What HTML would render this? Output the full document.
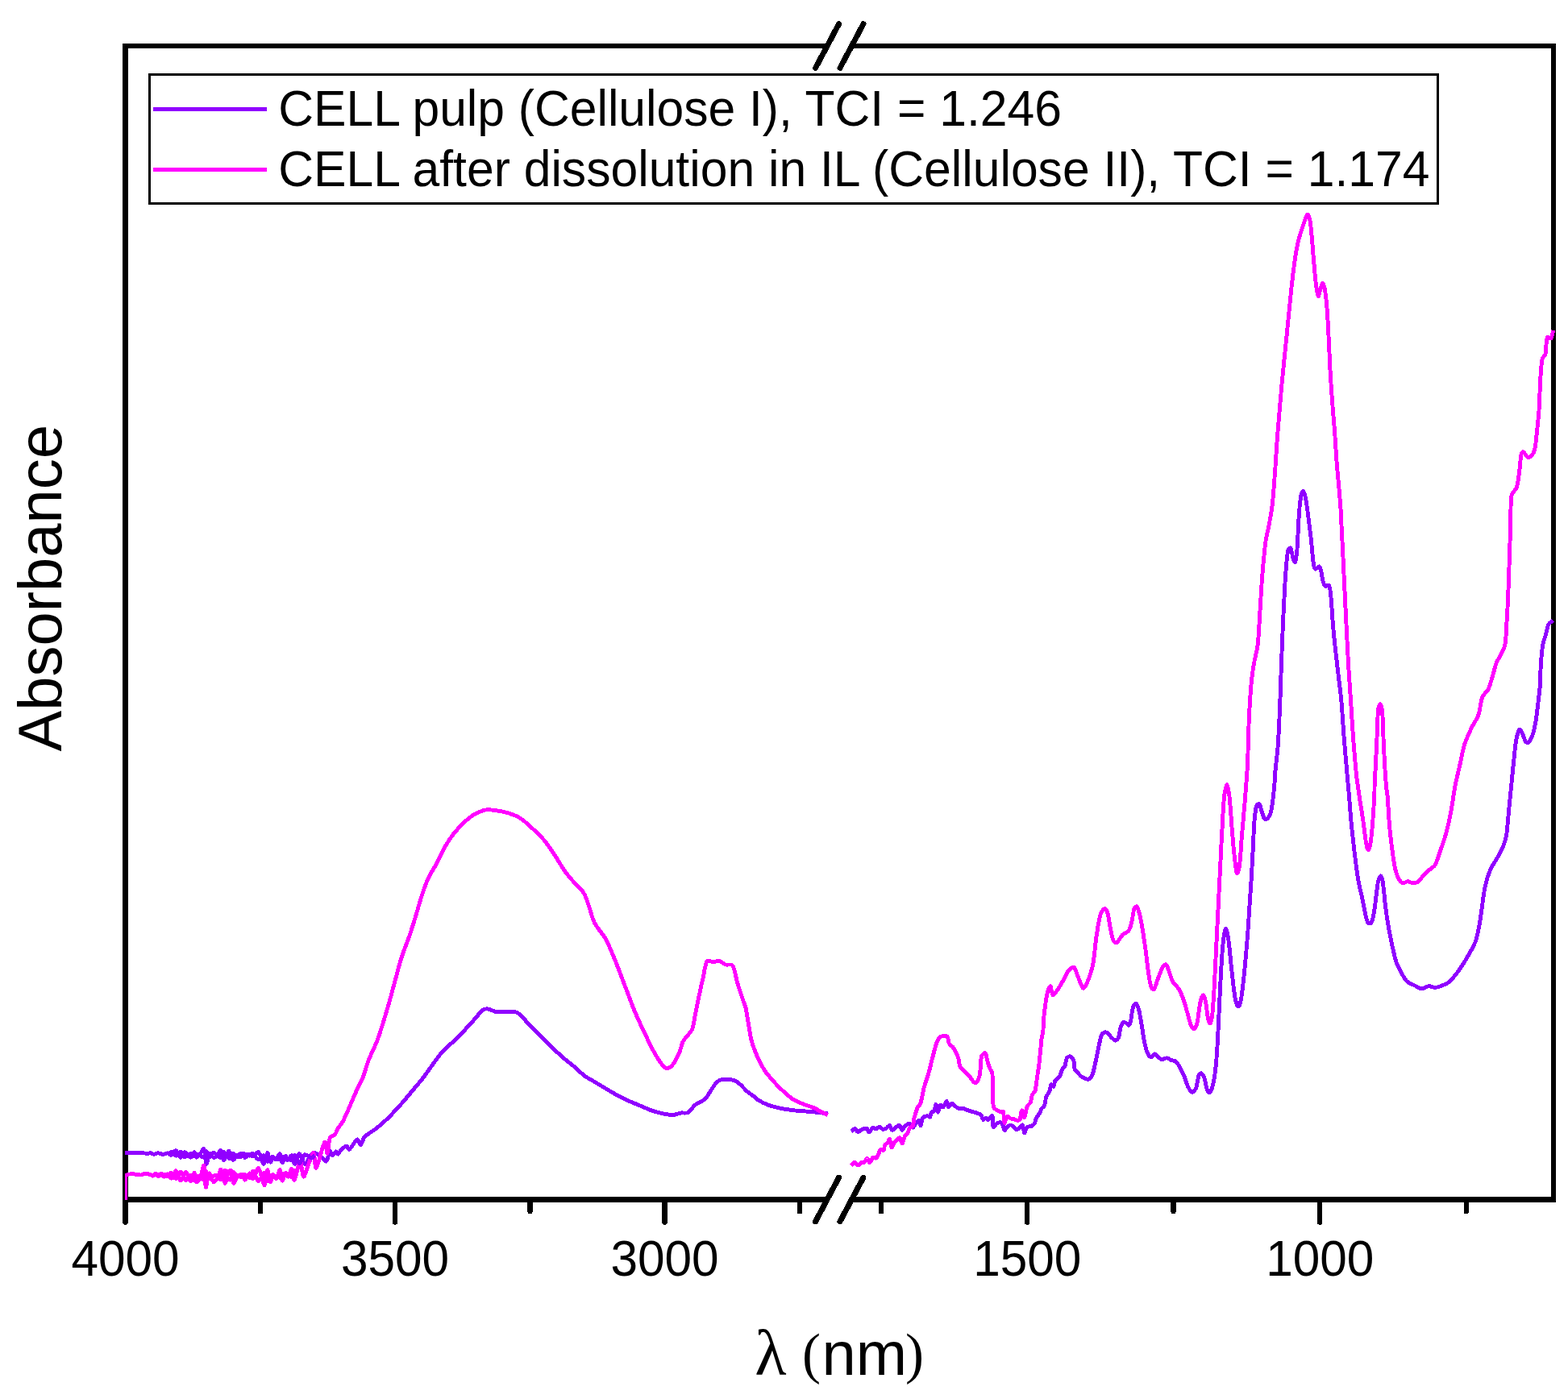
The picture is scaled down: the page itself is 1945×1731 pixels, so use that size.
<!DOCTYPE html>
<html lang="en">
<head>
<meta charset="utf-8">
<title>FTIR absorbance spectra of cellulose</title>
<style>
html, body { margin: 0; padding: 0; background: #ffffff; }
body { width: 1945px; height: 1731px; overflow: hidden; }
svg { display: block; }
</style>
</head>
<body>
<svg width="1945" height="1731" viewBox="0 0 1945 1731">
<rect x="0" y="0" width="1945" height="1731" fill="#ffffff"/>
<g fill="#000000" shape-rendering="crispEdges">
<rect x="152" y="54" width="7" height="1438"/>
<rect x="1924" y="54" width="6" height="1438"/>
<rect x="152" y="54" width="874" height="6"/>
<rect x="1057" y="54" width="873" height="6"/>
<rect x="152" y="1485" width="874" height="7"/>
<rect x="1057" y="1485" width="873" height="7"/>
<rect x="152.4" y="1488" width="6.2" height="31.6" rx="2" ry="2"/>
<rect x="486.9" y="1488" width="6.2" height="31.6" rx="2" ry="2"/>
<rect x="821.4" y="1488" width="6.2" height="31.6" rx="2" ry="2"/>
<rect x="1271.2" y="1488" width="6.2" height="31.6" rx="2" ry="2"/>
<rect x="1634.1" y="1488" width="6.2" height="31.6" rx="2" ry="2"/>
<rect x="319.9" y="1488" width="6.2" height="18" rx="2" ry="2"/>
<rect x="654.4" y="1488" width="6.2" height="18" rx="2" ry="2"/>
<rect x="988.9" y="1488" width="6.2" height="18" rx="2" ry="2"/>
<rect x="1089.9" y="1488" width="6.2" height="18" rx="2" ry="2"/>
<rect x="1452.4" y="1488" width="6.2" height="18" rx="2" ry="2"/>
<rect x="1815.6" y="1488" width="6.2" height="18" rx="2" ry="2"/>
</g>
<g stroke="#000000" stroke-width="7.0" stroke-linecap="round" fill="none" shape-rendering="crispEdges">
<line x1="1011.6" y1="84.3" x2="1040.6" y2="29.7"/>
<line x1="1042.0" y1="84.3" x2="1071.0" y2="29.7"/>
<line x1="1011.5" y1="1515.8" x2="1040.5" y2="1461.2"/>
<line x1="1041.9" y1="1515.8" x2="1070.9" y2="1461.2"/>
</g>
<g fill="none" stroke-width="4.9" stroke-linejoin="round" stroke-linecap="butt" shape-rendering="crispEdges">
<path stroke="#9000ff" d="M155.1,1430.2C158.5,1430.2 163.0,1430.1 166.5,1430.2C168.9,1430.2 172.2,1430.4 174.7,1430.6C177.1,1430.8 180.4,1431.2 182.9,1431.3C184.1,1431.3 185.8,1430.7 187.0,1430.8C188.3,1431.0 189.9,1432.2 191.1,1432.2C192.6,1432.2 194.6,1430.8 196.1,1430.8C198.0,1430.9 200.7,1432.5 202.6,1432.5C204.1,1432.5 206.1,1430.7 207.6,1430.8C209.1,1431.0 211.2,1433.7 212.5,1433.3C214.4,1432.7 216.8,1427.2 218.3,1427.6C220.2,1428.0 222.2,1435.9 224.0,1436.2C225.5,1436.5 227.3,1429.6 229.0,1429.6C231.0,1429.6 234.4,1436.2 236.4,1436.2C238.1,1436.2 240.1,1429.6 241.3,1429.6C242.3,1429.6 242.7,1435.9 243.8,1436.2C244.9,1436.4 247.4,1432.9 248.7,1431.3C250.1,1429.6 252.2,1424.4 252.8,1425.5C254.5,1428.4 254.8,1443.4 256.1,1444.4C257.0,1445.1 258.5,1432.8 260.2,1431.3C261.2,1430.5 263.6,1436.3 265.2,1436.6C266.5,1436.8 268.8,1434.2 270.1,1432.9C271.4,1431.5 273.0,1426.9 273.8,1427.6C275.3,1428.9 276.1,1438.5 277.5,1439.5C278.4,1440.1 280.4,1434.9 281.6,1432.9C282.4,1431.6 283.4,1427.8 284.1,1428.4C285.6,1429.8 287.2,1438.5 289.0,1439.5C290.2,1440.1 292.1,1434.9 294.0,1433.7C296.1,1432.4 300.4,1430.7 302.2,1431.3C303.4,1431.6 302.9,1436.5 303.8,1436.6C305.1,1436.7 307.8,1432.5 309.6,1432.1C310.6,1431.9 312.1,1434.8 313.2,1434.6C315.4,1434.1 319.1,1428.6 320.6,1429.6C323.3,1431.5 325.4,1444.3 327.1,1444.4C328.7,1444.5 330.3,1430.8 331.7,1430.4C332.8,1430.1 334.0,1440.8 335.4,1442.0C336.1,1442.6 337.4,1436.8 338.7,1436.2C339.4,1435.8 341.1,1439.1 342.0,1438.7C343.7,1437.7 346.2,1431.1 347.3,1431.7C348.7,1432.4 349.0,1442.3 350.2,1442.8C351.1,1443.2 353.1,1435.2 354.3,1434.6C355.0,1434.2 355.8,1439.6 356.8,1439.5C358.0,1439.3 360.6,1433.1 361.7,1433.7C363.3,1434.6 364.5,1444.7 365.8,1444.4C367.4,1444.1 369.7,1431.7 371.6,1431.7C373.4,1431.7 376.0,1444.4 378.2,1444.4C380.4,1444.5 383.5,1435.3 386.4,1432.1C387.2,1431.1 389.3,1430.1 390.5,1430.4C393.0,1431.1 396.4,1433.6 398.7,1435.4C400.6,1436.8 403.3,1441.9 404.5,1441.1C406.5,1439.9 407.7,1430.3 409.4,1428.8C410.2,1428.1 411.6,1433.7 412.7,1433.7C413.9,1433.7 415.6,1429.1 416.8,1428.8C417.6,1428.6 418.6,1432.4 419.3,1432.1C420.5,1431.6 421.9,1427.7 423.4,1426.3C425.1,1424.8 428.2,1422.2 430.0,1422.2C431.2,1422.2 432.3,1426.9 433.3,1426.3C436.2,1424.5 440.3,1415.1 443.1,1414.0C444.5,1413.4 446.1,1421.0 447.3,1420.6C448.8,1420.0 450.2,1413.2 452.2,1410.7C454.0,1408.5 457.6,1406.6 460.0,1404.9C462.1,1403.4 465.0,1401.6 467.0,1400.0C470.2,1397.4 474.5,1393.8 477.5,1391.0C480.6,1388.2 484.6,1384.1 487.5,1381.0C491.3,1377.0 496.3,1371.5 500.0,1367.3C503.8,1362.9 508.7,1356.8 512.5,1352.3C516.2,1347.8 521.4,1341.9 525.0,1337.3C528.9,1332.2 533.6,1325.0 537.5,1319.8C541.1,1314.9 545.8,1308.1 550.0,1303.6C553.3,1299.9 558.8,1295.8 562.4,1292.3C566.3,1288.7 571.3,1283.7 574.9,1279.8C578.8,1275.8 583.7,1270.2 587.4,1266.1C590.8,1262.4 594.9,1256.7 598.7,1253.6C600.1,1252.4 603.1,1251.7 604.9,1251.9C607.9,1252.2 611.8,1254.7 614.9,1255.4C617.8,1255.9 621.9,1255.9 624.9,1255.9C628.7,1255.9 633.8,1254.9 637.4,1255.4C639.8,1255.7 643.1,1257.1 644.9,1258.6C648.3,1261.4 651.8,1266.6 654.9,1269.8C659.3,1274.4 665.4,1280.3 669.9,1284.8C674.4,1289.3 680.3,1295.4 684.9,1299.8C689.3,1304.1 695.3,1309.6 699.9,1313.6C703.5,1316.7 708.7,1320.5 712.4,1323.6C716.2,1326.8 720.8,1331.8 724.9,1334.8C728.3,1337.4 733.6,1340.1 737.4,1342.3C741.1,1344.6 746.1,1347.6 749.9,1349.8C754.3,1352.5 760.3,1356.1 764.8,1358.6C769.3,1360.9 775.3,1364.0 779.8,1366.0C784.3,1368.1 790.3,1370.4 794.8,1372.3C799.3,1374.2 805.2,1377.0 809.8,1378.5C813.5,1379.8 818.5,1381.0 822.3,1381.8C826.0,1382.5 831.1,1383.7 834.8,1383.5C837.8,1383.4 841.8,1381.5 844.8,1381.0C847.4,1380.6 851.4,1381.8 853.5,1380.5C856.7,1378.8 859.3,1373.4 862.3,1371.0C865.7,1368.3 871.7,1366.5 874.8,1363.5C877.7,1360.8 879.9,1355.6 882.3,1352.3C884.4,1349.2 887.0,1344.7 889.8,1342.3C891.5,1340.8 894.9,1339.5 897.3,1339.3C900.9,1338.9 906.2,1339.3 909.8,1340.3C912.2,1341.0 915.3,1343.1 917.3,1344.8C920.5,1347.5 924.1,1352.0 927.3,1354.8C929.7,1356.9 933.5,1359.1 936.0,1361.0C937.3,1362.1 938.6,1364.1 940.0,1364.9C944.2,1367.3 950.3,1370.2 955.0,1371.9C959.3,1373.4 965.4,1374.7 970.0,1375.6C975.2,1376.6 982.2,1377.5 987.5,1378.1C992.7,1378.7 999.7,1378.9 1004.9,1379.4C1011.5,1380.0 1020.2,1381.1 1026.7,1381.9"/>
<path stroke="#9000ff" d="M1055.9,1403.8C1057.4,1402.8 1059.4,1400.3 1060.7,1400.5C1061.8,1400.6 1062.8,1404.5 1064.0,1404.6C1065.7,1404.6 1068.5,1401.6 1070.6,1400.9C1071.9,1400.4 1074.4,1399.9 1075.5,1400.5C1076.6,1401.1 1077.1,1405.1 1078.0,1405.0C1079.3,1404.8 1081.2,1400.1 1082.9,1399.2C1083.7,1398.8 1085.2,1401.0 1086.2,1400.9C1087.7,1400.7 1089.7,1398.3 1091.1,1398.4C1092.4,1398.5 1093.9,1401.0 1095.2,1401.3C1096.4,1401.5 1098.3,1400.7 1099.4,1400.1C1100.7,1399.2 1102.5,1396.0 1103.5,1396.4C1104.7,1396.8 1105.5,1402.0 1106.8,1402.5C1107.7,1402.9 1109.6,1400.1 1110.9,1399.2C1112.3,1398.3 1114.7,1395.9 1115.8,1396.4C1117.2,1396.9 1118.0,1402.3 1119.1,1402.5C1120.0,1402.7 1121.1,1398.7 1122.4,1397.6C1123.8,1396.3 1126.6,1394.0 1128.2,1394.3C1129.6,1394.5 1131.1,1399.3 1132.3,1399.2C1133.6,1399.1 1135.0,1395.1 1136.4,1393.5C1137.2,1392.5 1139.0,1390.2 1139.7,1390.6C1140.7,1391.2 1141.6,1397.2 1142.1,1396.8C1143.0,1396.1 1143.1,1389.1 1144.6,1386.9C1145.5,1385.5 1148.6,1385.0 1150.4,1384.8C1151.4,1384.7 1153.1,1386.6 1153.7,1386.1C1154.6,1385.2 1154.4,1381.7 1155.3,1380.3C1155.9,1379.5 1158.1,1379.6 1158.6,1378.7C1159.8,1376.6 1160.4,1370.2 1161.1,1370.4C1161.9,1370.7 1162.6,1380.2 1163.5,1380.3C1164.4,1380.4 1165.4,1372.6 1166.8,1371.3C1167.4,1370.7 1169.4,1374.2 1170.1,1373.7C1171.6,1372.7 1173.2,1366.3 1174.2,1366.3C1175.2,1366.3 1175.6,1373.2 1176.7,1373.7C1177.6,1374.1 1179.5,1369.3 1180.8,1369.2C1182.0,1369.1 1183.6,1372.0 1184.9,1372.9C1186.3,1373.8 1188.3,1375.0 1189.8,1375.4C1191.2,1375.7 1193.4,1375.1 1194.8,1375.4C1196.3,1375.7 1198.2,1376.9 1199.7,1377.4C1201.7,1378.1 1204.3,1378.9 1206.3,1379.5C1207.6,1379.9 1209.4,1380.3 1210.7,1380.8C1212.5,1381.4 1215.2,1382.0 1216.5,1383.2C1217.9,1384.6 1218.5,1388.7 1219.7,1389.4C1220.5,1389.8 1222.1,1386.9 1223.0,1386.9C1223.8,1386.9 1224.7,1389.7 1225.5,1389.4C1227.1,1388.9 1230.2,1383.5 1230.8,1384.5C1232.1,1386.3 1230.9,1396.4 1232.1,1398.5C1232.6,1399.3 1234.8,1395.3 1236.2,1394.3C1237.5,1393.5 1239.8,1392.6 1241.1,1392.7C1242.0,1392.8 1243.1,1394.3 1243.6,1395.2C1244.6,1397.2 1245.0,1402.0 1246.1,1402.6C1246.8,1403.0 1248.2,1399.5 1249.4,1398.5C1250.4,1397.5 1252.2,1396.0 1253.5,1396.0C1254.7,1396.0 1256.5,1397.6 1257.6,1398.5C1258.7,1399.3 1259.8,1401.6 1260.9,1401.8C1262.0,1401.9 1263.9,1400.2 1265.0,1399.3C1266.1,1398.4 1267.7,1395.4 1268.3,1396.0C1269.5,1397.3 1269.8,1405.5 1270.7,1405.9C1271.5,1406.2 1272.5,1400.0 1274.0,1398.5C1275.0,1397.5 1277.7,1398.2 1279.0,1397.6C1280.4,1397.0 1282.3,1395.6 1283.1,1394.3C1284.3,1392.4 1284.5,1389.0 1285.6,1386.9C1286.5,1385.1 1288.6,1383.0 1289.7,1381.2C1290.6,1379.6 1291.1,1377.0 1292.1,1375.4C1292.9,1374.3 1294.9,1373.4 1295.4,1372.1C1296.7,1369.0 1296.7,1363.9 1297.9,1360.6C1298.7,1358.5 1301.2,1356.2 1302.0,1354.0C1302.9,1351.7 1302.7,1347.0 1303.7,1345.8C1304.1,1345.2 1306.4,1348.7 1306.9,1348.3C1307.9,1347.5 1307.6,1343.4 1308.6,1341.7C1309.8,1339.7 1313.1,1338.0 1314.3,1335.9C1315.8,1333.5 1316.4,1329.4 1317.6,1326.9C1318.3,1325.5 1320.3,1324.2 1320.9,1322.8C1322.1,1320.0 1322.0,1315.4 1323.4,1312.9C1324.0,1311.8 1326.4,1310.5 1327.5,1310.8C1328.9,1311.3 1331.0,1313.7 1331.6,1315.4C1332.8,1318.5 1332.2,1323.7 1333.3,1326.9C1333.9,1328.6 1336.1,1330.4 1337.4,1331.8C1338.6,1333.1 1340.1,1334.9 1341.5,1335.9C1342.8,1336.9 1344.9,1337.8 1346.4,1338.4C1347.6,1338.8 1349.5,1339.6 1350.5,1339.2C1351.7,1338.8 1353.1,1337.1 1353.8,1335.9C1354.8,1334.3 1355.8,1331.7 1356.2,1329.8C1358.0,1323.1 1359.7,1314.1 1361.2,1307.3C1362.7,1300.6 1364.1,1291.2 1366.2,1284.8C1366.7,1283.4 1368.7,1281.6 1370.0,1281.1C1370.9,1280.7 1372.8,1281.2 1373.7,1281.8C1375.5,1283.1 1377.1,1285.8 1378.7,1287.3C1380.1,1288.6 1382.3,1291.1 1383.7,1291.1C1384.9,1291.1 1386.9,1288.8 1387.5,1287.3C1388.8,1283.9 1388.8,1278.4 1390.0,1274.8C1390.7,1272.8 1392.3,1269.6 1393.7,1268.6C1394.5,1268.1 1396.5,1269.2 1397.5,1269.8C1398.4,1270.4 1399.4,1272.6 1400.0,1272.3C1400.9,1271.9 1402.1,1269.0 1402.5,1267.3C1403.7,1262.2 1404.0,1254.8 1405.5,1249.9C1406.0,1248.2 1408.3,1245.0 1409.2,1245.4C1410.4,1245.8 1411.9,1250.1 1412.5,1252.3C1414.0,1258.2 1415.2,1266.3 1416.2,1272.3C1417.4,1279.1 1418.5,1288.2 1420.0,1294.8C1420.8,1298.6 1422.1,1303.9 1423.7,1307.3C1424.5,1309.0 1426.6,1311.7 1428.0,1311.8C1429.3,1311.9 1431.1,1307.8 1432.5,1307.8C1434.0,1307.9 1435.9,1311.1 1437.5,1312.3C1438.5,1313.2 1440.0,1314.8 1441.2,1314.8C1443.0,1314.9 1445.6,1312.7 1447.5,1312.8C1449.0,1312.9 1450.9,1314.7 1452.4,1315.3C1454.3,1316.0 1457.3,1316.1 1458.7,1317.3C1460.6,1319.0 1462.4,1322.5 1463.7,1324.8C1465.4,1327.7 1467.4,1331.7 1468.7,1334.8C1470.4,1338.8 1471.8,1344.6 1473.7,1348.6C1474.8,1350.8 1477.1,1355.1 1478.7,1355.3C1480.1,1355.5 1482.9,1351.8 1483.7,1349.8C1485.3,1345.7 1485.5,1339.0 1486.9,1334.8C1487.3,1333.6 1489.1,1331.5 1489.9,1331.8C1491.2,1332.3 1493.0,1335.5 1493.7,1337.3C1495.3,1341.6 1496.0,1347.9 1497.4,1352.3C1497.8,1353.6 1499.2,1356.3 1499.9,1356.0C1501.1,1355.6 1503.1,1351.9 1503.7,1349.8C1505.3,1344.0 1506.7,1335.9 1507.4,1329.8C1508.5,1320.9 1509.4,1308.8 1509.9,1299.8C1510.9,1284.8 1511.7,1264.8 1512.4,1249.9C1513.2,1234.9 1514.0,1214.9 1514.9,1199.9C1515.5,1190.1 1516.3,1177.1 1517.4,1167.4C1517.9,1162.8 1519.4,1152.8 1520.4,1152.4C1521.3,1152.1 1523.1,1161.1 1523.7,1164.9C1525.2,1175.3 1526.2,1189.4 1527.4,1199.9C1528.5,1209.6 1529.7,1222.7 1531.2,1232.4C1531.8,1236.9 1532.9,1243.2 1534.4,1247.4C1534.7,1248.1 1536.6,1249.2 1536.9,1248.6C1538.2,1246.2 1539.4,1240.8 1539.9,1237.4C1541.4,1227.7 1542.7,1214.6 1543.7,1204.9C1544.9,1192.1 1546.4,1175.1 1547.4,1162.4C1548.3,1151.2 1549.2,1136.2 1549.9,1124.9C1550.6,1113.7 1551.7,1098.7 1552.4,1087.4C1553.1,1076.2 1553.8,1061.2 1554.4,1050.0C1554.9,1040.2 1555.3,1027.2 1556.1,1017.5C1556.6,1012.2 1557.2,1004.8 1558.6,1000.0C1559.0,998.8 1561.3,996.8 1561.9,997.5C1563.4,999.1 1564.3,1004.5 1565.4,1007.5C1566.3,1010.1 1567.2,1014.5 1568.6,1016.2C1569.3,1016.9 1571.6,1016.2 1572.4,1015.5C1573.9,1014.0 1575.5,1010.9 1576.1,1008.7C1577.3,1004.8 1578.1,999.1 1578.6,995.0C1579.6,987.5 1580.5,977.5 1581.1,970.0C1581.3,967.7 1581.2,964.6 1581.4,962.3C1582.4,951.1 1584.4,936.1 1585.2,924.8C1586.3,909.9 1587.0,889.9 1587.7,874.9C1588.3,859.9 1588.9,839.9 1589.4,824.9C1590.0,809.9 1590.8,789.9 1591.4,774.9C1592.1,759.9 1593.0,739.9 1593.9,724.9C1594.5,715.2 1595.4,702.2 1596.4,692.5C1596.8,689.0 1597.3,684.2 1598.4,681.2C1598.7,680.5 1600.6,679.4 1600.9,680.0C1602.3,682.7 1602.8,688.8 1603.9,692.5C1604.4,694.0 1606.0,698.3 1606.4,697.5C1607.5,695.3 1608.5,687.0 1608.9,682.5C1610.0,669.0 1610.4,651.0 1611.4,637.5C1611.9,630.7 1612.7,621.6 1613.9,615.0C1614.2,613.2 1615.7,609.2 1616.4,609.5C1617.4,609.9 1618.9,615.0 1619.4,617.5C1620.8,624.1 1621.8,633.2 1622.7,640.0C1623.9,649.0 1625.4,661.0 1626.4,670.0C1627.4,678.9 1628.1,691.1 1629.4,700.0C1629.7,701.9 1630.8,705.7 1631.9,706.2C1632.9,706.6 1635.5,702.5 1636.4,702.9C1637.6,703.6 1638.4,707.8 1638.9,709.9C1639.9,713.6 1640.3,718.8 1641.4,722.4C1641.9,724.1 1643.2,726.8 1644.4,727.4C1645.3,727.9 1648.0,725.3 1648.4,726.2C1649.9,729.1 1650.5,735.8 1650.9,739.9C1652.0,750.4 1652.5,764.4 1653.4,774.9C1654.2,783.9 1655.4,795.9 1656.4,804.9C1657.5,814.7 1659.0,827.6 1660.1,837.4C1661.3,847.1 1663.0,860.1 1663.9,869.9C1665.0,882.6 1665.9,899.6 1666.9,912.3C1667.8,923.6 1669.2,938.6 1670.1,949.8C1671.1,961.1 1672.4,976.1 1673.4,987.3C1674.2,997.1 1675.2,1010.2 1676.1,1020.0C1677.1,1030.5 1678.6,1044.5 1679.8,1054.9C1681.2,1066.2 1683.0,1081.2 1684.8,1092.4C1686.0,1099.2 1688.4,1108.2 1689.8,1114.9C1691.3,1121.6 1692.7,1130.7 1694.3,1137.4C1694.9,1139.9 1695.9,1143.8 1697.3,1145.4C1697.9,1146.1 1700.6,1145.8 1701.1,1144.9C1702.7,1141.9 1703.6,1136.2 1704.3,1132.4C1705.5,1125.7 1706.4,1116.7 1707.3,1109.9C1708.0,1104.7 1708.6,1097.5 1709.8,1092.4C1710.3,1090.6 1712.1,1086.6 1712.8,1086.9C1713.8,1087.4 1714.9,1092.5 1715.3,1094.9C1716.7,1103.8 1717.4,1115.9 1718.6,1124.9C1719.5,1132.4 1721.0,1142.4 1722.3,1149.9C1723.6,1157.4 1725.7,1167.4 1727.3,1174.9C1728.7,1180.9 1730.3,1189.1 1732.3,1194.9C1733.7,1198.8 1736.5,1203.7 1738.6,1207.4C1740.3,1210.5 1742.3,1215.0 1744.8,1217.4C1747.2,1219.7 1751.7,1221.3 1754.8,1222.9C1757.4,1224.2 1760.9,1226.7 1763.5,1226.9C1766.1,1227.0 1769.6,1223.9 1772.3,1223.6C1774.5,1223.4 1777.5,1225.4 1779.8,1225.4C1782.0,1225.4 1785.1,1224.4 1787.3,1223.6C1790.4,1222.4 1794.7,1220.7 1797.3,1218.6C1800.7,1215.8 1804.5,1211.0 1807.3,1207.4C1810.5,1203.1 1814.5,1197.0 1817.3,1192.4C1821.3,1185.6 1826.8,1176.6 1829.8,1169.4C1832.1,1163.8 1833.6,1155.5 1834.8,1149.5C1836.2,1142.1 1837.4,1132.0 1838.5,1124.5C1839.6,1117.0 1840.6,1106.9 1842.3,1099.6C1843.6,1093.5 1846.0,1085.3 1848.5,1079.6C1850.5,1074.8 1854.7,1069.2 1857.2,1064.6C1859.6,1060.2 1862.8,1054.3 1864.7,1049.7C1866.2,1046.0 1867.8,1041.0 1868.5,1037.2C1869.7,1029.8 1870.2,1019.7 1871.0,1012.2C1871.7,1004.7 1872.7,994.7 1873.4,987.3C1874.2,979.8 1875.2,969.8 1875.9,962.3C1876.7,954.8 1877.6,944.8 1878.4,937.3C1879.1,931.3 1879.8,923.3 1880.9,917.4C1881.7,913.7 1883.1,906.9 1884.7,905.4C1885.4,904.7 1887.6,908.4 1888.4,909.9C1889.9,912.7 1890.5,917.3 1892.2,919.9C1892.8,920.9 1895.2,922.3 1895.9,921.6C1897.8,920.0 1899.8,915.3 1900.9,912.4C1902.5,908.1 1903.8,902.0 1904.6,897.4C1905.8,890.7 1906.8,881.7 1907.6,875.0C1908.5,867.5 1909.8,857.5 1910.4,850.0C1910.9,842.5 1910.8,832.4 1911.3,824.9C1911.8,817.4 1912.5,807.3 1913.8,799.9C1914.4,796.1 1916.5,791.2 1917.5,787.4C1918.6,783.7 1919.1,778.2 1920.8,774.9C1921.7,773.0 1924.6,771.4 1926.3,769.9"/>
<path stroke="#ff00ff" stroke-width="3.4" stroke-linejoin="miter" d="M156.5,1489.0 L156.5,1457.4 L158.5,1457.4"/>
<path stroke="#ff00ff" d="M156.5,1457.4C156.6,1457.4 156.8,1457.3 157.0,1457.3C159.3,1457.2 162.5,1456.7 164.8,1456.8C167.8,1456.9 171.8,1458.1 174.7,1458.0C176.0,1458.0 177.5,1456.4 178.8,1456.4C181.2,1456.3 184.7,1456.9 187.0,1457.6C187.9,1457.8 188.8,1459.4 189.5,1459.2C190.5,1458.9 191.8,1455.9 192.8,1455.9C193.8,1456.0 195.0,1459.6 196.1,1459.6C197.2,1459.6 199.0,1455.9 200.2,1455.9C201.3,1456.0 202.4,1459.9 203.5,1460.1C204.6,1460.2 206.4,1456.5 207.6,1456.8C209.2,1457.1 211.2,1462.6 212.5,1462.1C214.5,1461.4 216.7,1452.3 218.3,1452.6C220.2,1453.1 222.1,1464.7 224.0,1465.0C225.8,1465.2 228.8,1454.2 230.6,1454.3C232.5,1454.4 234.7,1465.7 236.4,1465.8C237.9,1465.9 240.2,1454.9 241.3,1455.1C242.4,1455.3 242.4,1466.0 243.8,1467.0C244.7,1467.7 247.8,1463.0 248.7,1460.9C250.5,1456.7 252.1,1444.7 252.8,1446.1C254.1,1448.4 254.1,1471.4 255.3,1473.2C256.1,1474.4 257.7,1457.0 259.4,1455.9C260.6,1455.2 263.2,1466.1 265.2,1467.0C266.4,1467.6 268.9,1462.9 270.1,1460.9C271.6,1458.2 273.2,1450.6 274.2,1451.4C275.9,1452.8 277.7,1467.8 279.2,1468.3C280.4,1468.7 281.5,1458.1 283.3,1454.3C283.7,1453.3 286.2,1451.4 286.6,1452.2C288.2,1455.6 288.3,1467.0 289.8,1468.3C290.8,1469.1 292.7,1461.1 294.8,1459.2C296.4,1457.9 300.8,1456.8 302.2,1457.6C303.5,1458.3 302.9,1464.4 303.8,1464.2C305.2,1463.9 307.9,1456.2 309.6,1455.9C310.9,1455.7 312.8,1463.2 314.0,1462.5C316.1,1461.2 318.9,1448.4 320.6,1449.4C323.1,1450.9 326.2,1470.3 328.0,1470.7C329.5,1471.1 330.4,1452.5 331.7,1451.8C332.7,1451.3 334.1,1465.6 335.4,1466.6C336.2,1467.3 337.3,1458.3 338.7,1457.6C339.6,1457.1 341.9,1463.2 342.8,1462.5C344.5,1461.3 346.3,1451.1 347.3,1451.4C348.5,1451.8 349.0,1464.4 350.2,1465.0C351.1,1465.5 352.9,1456.1 354.3,1455.1C355.1,1454.6 356.8,1460.5 357.6,1460.1C359.0,1459.2 360.8,1450.1 361.7,1450.6C363.0,1451.3 363.8,1465.2 365.0,1464.2C367.0,1462.4 370.5,1441.8 372.4,1441.1C373.9,1440.6 374.8,1459.2 376.5,1460.1C377.8,1460.7 380.5,1450.3 382.3,1446.1C384.2,1441.4 387.5,1430.0 388.8,1430.4C390.4,1431.0 390.6,1450.8 392.1,1449.4C394.8,1446.8 399.9,1421.1 402.8,1417.3C404.1,1415.7 405.3,1432.0 406.1,1431.3C407.3,1430.3 407.4,1416.7 409.4,1411.5C410.1,1409.8 413.9,1409.7 415.2,1408.2C416.9,1406.2 417.9,1402.3 419.3,1400.0C420.8,1397.6 423.5,1394.8 424.9,1392.3C427.4,1387.6 430.2,1381.0 432.4,1376.1C436.2,1367.5 441.0,1355.9 444.9,1347.4C446.3,1344.3 448.8,1340.5 450.0,1337.3C452.6,1330.7 454.9,1321.4 457.5,1314.8C460.2,1307.9 464.8,1299.2 467.5,1292.3C470.1,1285.7 472.8,1276.6 475.0,1269.8C477.3,1262.4 480.3,1252.4 482.5,1244.9C484.8,1236.6 487.7,1225.6 490.0,1217.4C492.2,1209.1 494.9,1198.0 497.5,1189.9C500.1,1181.5 504.6,1170.7 507.5,1162.4C510.3,1154.2 513.7,1143.2 516.2,1134.9C518.5,1127.4 521.2,1117.3 523.7,1109.9C525.7,1103.9 528.5,1095.7 531.2,1089.9C534.1,1083.7 539.2,1076.0 542.5,1069.9C545.6,1064.0 549.1,1055.8 552.4,1050.0C555.1,1045.3 559.1,1039.2 562.4,1035.0C565.9,1030.6 570.9,1025.0 574.9,1021.2C578.4,1017.9 583.3,1013.6 587.4,1011.2C591.6,1008.8 597.8,1005.9 602.4,1005.0C606.0,1004.3 611.2,1005.2 614.9,1005.7C619.5,1006.3 625.5,1007.4 629.9,1008.7C634.5,1010.2 640.8,1012.4 644.9,1015.0C649.8,1018.0 655.6,1023.5 659.9,1027.5C664.6,1031.8 670.8,1037.6 674.9,1042.5C679.0,1047.4 683.8,1054.6 687.4,1060.0C691.3,1065.8 695.9,1074.1 699.9,1079.9C702.6,1083.9 706.7,1088.8 709.9,1092.4C713.9,1097.0 720.3,1102.4 723.6,1107.4C726.3,1111.4 728.2,1117.8 729.9,1122.4C732.3,1129.1 734.2,1138.6 737.4,1144.9C740.6,1151.4 747.6,1158.6 751.1,1164.9C755.1,1172.1 759.2,1182.3 762.3,1189.9C766.3,1199.5 771.1,1212.6 774.8,1222.4C778.6,1232.1 783.3,1245.2 787.3,1254.9C790.8,1263.2 795.9,1274.2 799.8,1282.3C803.4,1289.9 808.2,1300.0 812.3,1307.3C815.0,1312.0 818.9,1318.2 822.3,1322.3C823.4,1323.6 825.8,1325.3 827.3,1325.3C829.1,1325.3 832.3,1323.9 833.6,1322.3C836.8,1318.5 840.1,1312.0 842.3,1307.3C844.3,1303.0 845.1,1296.4 847.3,1292.3C849.9,1287.5 856.2,1282.3 858.5,1277.3C860.7,1272.6 861.2,1265.1 862.3,1259.9C863.8,1252.4 865.7,1242.3 867.3,1234.9C868.7,1228.1 870.7,1219.1 872.3,1212.4C873.7,1206.4 874.5,1196.5 877.3,1192.4C878.3,1190.9 882.5,1193.6 884.8,1193.6C887.0,1193.6 890.2,1191.9 892.3,1192.4C894.7,1192.9 897.3,1196.1 899.8,1196.9C902.2,1197.7 907.3,1196.0 908.5,1197.9C911.8,1202.9 912.7,1213.3 914.8,1219.9C917.6,1228.9 921.7,1240.9 924.8,1249.9C924.8,1249.9 925.0,1249.9 925.0,1249.9C926.2,1256.6 927.5,1265.7 928.7,1272.4C929.8,1278.4 930.8,1286.6 932.5,1292.4C934.2,1298.5 937.4,1306.6 940.0,1312.4C942.2,1317.4 945.7,1324.1 948.7,1328.6C951.7,1333.0 956.4,1338.4 960.0,1342.4C963.5,1346.3 968.5,1351.3 972.5,1354.9C976.0,1358.1 980.9,1362.4 985.0,1364.9C988.4,1367.0 993.7,1368.8 997.5,1370.4C1001.1,1371.8 1006.3,1373.2 1009.9,1374.9C1013.1,1376.2 1016.9,1378.8 1019.9,1380.4C1021.9,1381.4 1024.7,1382.6 1026.7,1383.6"/>
<path stroke="#ff00ff" d="M1055.9,1446.5C1057.1,1445.3 1058.6,1442.5 1059.9,1442.4C1061.3,1442.4 1063.4,1446.2 1064.8,1446.1C1066.1,1446.1 1067.5,1442.7 1068.9,1442.0C1069.7,1441.6 1071.5,1442.9 1072.2,1442.4C1073.5,1441.5 1074.5,1437.4 1075.5,1437.5C1076.5,1437.5 1077.8,1443.0 1078.8,1442.8C1080.0,1442.6 1081.3,1437.4 1082.9,1436.2C1083.8,1435.6 1086.2,1437.7 1087.0,1437.1C1088.4,1436.0 1089.4,1432.5 1090.3,1430.5C1090.9,1429.3 1091.1,1426.9 1092.0,1426.4C1092.8,1425.9 1095.4,1427.9 1096.1,1427.2C1097.1,1426.1 1096.8,1422.3 1097.7,1420.6C1098.3,1419.6 1100.3,1419.1 1101.0,1418.2C1102.0,1416.9 1103.0,1412.6 1103.5,1413.2C1104.5,1414.4 1104.9,1423.0 1105.9,1423.9C1106.6,1424.5 1108.1,1419.7 1109.2,1418.2C1110.0,1417.0 1111.5,1415.8 1112.5,1414.9C1113.5,1413.9 1115.1,1411.1 1115.8,1411.6C1117.1,1412.4 1118.2,1419.2 1119.1,1419.0C1120.2,1418.7 1121.1,1412.4 1122.4,1409.9C1123.0,1408.7 1125.0,1407.8 1125.7,1406.6C1126.7,1404.9 1127.0,1401.7 1128.2,1400.1C1129.0,1398.8 1131.6,1398.1 1132.3,1396.8C1133.4,1394.4 1133.3,1390.4 1133.9,1387.7C1134.5,1385.2 1135.6,1381.9 1136.4,1379.5C1137.0,1377.5 1137.9,1374.7 1138.8,1372.9C1139.3,1372.0 1140.9,1371.3 1141.3,1370.4C1142.1,1368.9 1142.5,1366.4 1143.0,1364.7C1144.0,1360.3 1144.9,1354.3 1146.1,1349.9C1147.8,1343.8 1150.7,1335.9 1152.4,1329.9C1154.0,1323.9 1155.8,1315.9 1157.4,1309.9C1158.8,1304.6 1160.3,1297.4 1162.4,1292.4C1163.3,1290.2 1165.4,1287.1 1167.4,1286.2C1169.2,1285.3 1173.5,1285.0 1174.9,1286.2C1176.5,1287.6 1176.1,1292.6 1177.4,1294.9C1178.3,1296.7 1181.2,1298.1 1182.4,1299.9C1184.6,1303.4 1187.2,1308.5 1188.6,1312.4C1189.8,1315.6 1189.5,1320.7 1191.1,1323.6C1192.9,1326.8 1197.4,1329.9 1200.0,1332.6C1201.3,1334.1 1202.9,1336.1 1204.1,1337.6C1205.4,1339.2 1206.7,1341.9 1208.2,1342.9C1209.0,1343.5 1210.9,1343.6 1211.5,1342.9C1212.9,1341.5 1214.3,1338.2 1214.8,1335.9C1215.7,1332.1 1216.0,1326.7 1216.5,1322.8C1216.9,1319.1 1216.5,1313.7 1217.7,1310.4C1218.2,1308.9 1221.4,1306.1 1222.2,1306.7C1223.5,1307.8 1223.8,1313.4 1224.7,1316.2C1225.6,1319.2 1226.8,1323.2 1228.0,1326.1C1228.6,1327.6 1230.7,1329.3 1230.8,1331.0C1231.8,1341.4 1231.2,1355.8 1231.7,1366.4C1231.8,1368.9 1231.9,1372.5 1232.9,1374.6C1233.5,1375.9 1235.7,1377.1 1237.0,1377.9C1238.1,1378.6 1239.9,1379.3 1241.1,1379.5C1242.1,1379.7 1244.1,1378.7 1244.4,1379.5C1245.6,1382.9 1245.2,1392.5 1246.1,1393.5C1246.6,1394.2 1247.9,1386.4 1249.4,1385.3C1250.1,1384.7 1252.2,1387.2 1253.5,1387.8C1254.6,1388.2 1256.4,1388.2 1257.6,1388.6C1258.9,1389.0 1260.4,1390.1 1261.7,1390.2C1262.7,1390.3 1264.6,1390.2 1265.0,1389.4C1266.3,1386.5 1266.5,1378.3 1267.5,1377.9C1268.2,1377.6 1270.0,1387.5 1270.7,1386.9C1271.9,1386.1 1272.5,1376.9 1274.0,1373.0C1274.7,1371.2 1277.4,1369.7 1278.2,1368.0C1279.4,1365.3 1279.5,1360.9 1280.6,1358.2C1281.2,1356.7 1283.5,1355.5 1283.9,1354.0C1285.2,1349.4 1285.6,1342.5 1286.4,1337.6C1287.1,1332.6 1288.2,1326.1 1288.8,1321.1C1289.5,1316.2 1290.0,1309.6 1290.5,1304.7C1291.0,1299.7 1291.5,1293.1 1292.1,1288.2C1292.5,1285.7 1293.5,1282.5 1293.8,1280.0C1294.3,1274.8 1294.2,1267.7 1294.8,1262.4C1295.7,1254.1 1296.9,1243.0 1298.6,1234.9C1299.3,1231.4 1301.7,1223.7 1302.8,1223.7C1303.9,1223.7 1304.5,1234.3 1306.0,1234.9C1307.3,1235.4 1310.6,1229.8 1312.3,1227.4C1314.8,1223.8 1317.6,1218.7 1319.8,1214.9C1321.7,1211.6 1323.6,1206.5 1326.0,1203.7C1327.4,1202.2 1331.1,1199.5 1332.3,1200.4C1334.5,1202.2 1335.6,1208.9 1337.3,1212.4C1339.2,1216.6 1342.4,1227.5 1344.3,1226.2C1347.7,1223.7 1353.0,1208.1 1355.0,1199.9C1357.7,1188.9 1358.3,1173.6 1360.0,1162.4C1361.3,1154.1 1362.7,1142.8 1365.0,1134.9C1365.7,1132.3 1368.4,1127.9 1370.0,1127.4C1371.1,1127.1 1373.2,1130.6 1373.7,1132.4C1375.5,1138.1 1376.2,1146.4 1377.5,1152.4C1378.5,1156.9 1379.5,1163.3 1381.2,1167.4C1381.7,1168.6 1384.1,1170.5 1385.0,1169.9C1387.5,1168.2 1389.9,1162.5 1392.5,1159.9C1394.4,1158.0 1398.4,1157.0 1400.0,1154.9C1401.8,1152.5 1402.9,1148.0 1403.7,1144.9C1405.0,1139.7 1405.4,1132.3 1407.0,1127.4C1407.3,1126.3 1409.4,1124.3 1410.0,1124.9C1411.5,1126.6 1412.9,1131.8 1413.7,1134.9C1415.2,1140.8 1416.5,1148.9 1417.5,1154.9C1418.7,1162.4 1420.2,1172.4 1421.2,1179.9C1422.4,1188.9 1423.6,1200.9 1425.0,1209.9C1425.6,1214.4 1426.5,1220.7 1428.0,1224.9C1428.4,1226.1 1430.6,1228.6 1431.2,1227.9C1433.1,1225.6 1434.6,1218.7 1436.2,1214.9C1438.0,1210.3 1440.1,1204.0 1442.5,1199.9C1443.1,1198.6 1445.4,1196.3 1446.2,1196.9C1447.7,1197.8 1449.0,1202.4 1450.0,1204.9C1451.6,1208.9 1452.9,1214.8 1454.9,1218.6C1456.6,1221.6 1460.7,1224.4 1462.4,1227.4C1464.9,1231.5 1467.1,1237.8 1468.7,1242.4C1470.5,1247.5 1472.2,1254.6 1473.7,1259.8C1474.8,1263.6 1475.9,1268.8 1477.4,1272.3C1478.1,1273.9 1480.2,1277.2 1481.2,1276.8C1482.5,1276.4 1484.4,1272.1 1484.9,1269.8C1486.6,1262.5 1487.1,1252.2 1488.7,1244.9C1489.3,1241.7 1491.3,1235.3 1492.4,1234.9C1493.3,1234.5 1494.9,1240.0 1495.4,1242.4C1496.8,1249.0 1497.3,1258.2 1498.7,1264.8C1499.0,1266.5 1500.6,1270.4 1501.2,1269.8C1502.1,1268.9 1503.3,1262.9 1503.7,1259.8C1504.8,1249.4 1505.6,1235.4 1506.2,1224.9C1507.1,1209.9 1507.9,1189.9 1508.7,1174.9C1509.4,1159.9 1510.4,1139.9 1511.2,1124.9C1511.9,1109.9 1512.9,1089.9 1513.7,1074.9C1514.4,1059.9 1515.3,1039.9 1516.2,1025.0C1516.8,1013.7 1517.4,998.6 1518.7,987.5C1519.1,983.3 1521.0,973.7 1521.9,973.7C1522.8,973.7 1524.4,983.3 1524.9,987.5C1526.2,998.7 1527.0,1013.7 1527.9,1025.0C1528.8,1036.2 1529.9,1051.2 1531.2,1062.4C1531.9,1068.8 1533.1,1081.1 1534.4,1083.7C1535.0,1084.8 1537.1,1077.7 1537.4,1074.9C1538.9,1063.8 1539.5,1048.7 1540.4,1037.5C1541.3,1026.2 1542.8,1011.2 1543.7,1000.0C1544.9,985.0 1546.6,965.0 1547.4,950.0C1548.2,935.0 1548.3,914.9 1549.0,899.9C1549.6,884.8 1550.7,864.8 1552.0,849.9C1552.6,842.3 1554.0,832.3 1555.2,824.9C1556.4,817.3 1559.3,807.5 1560.2,799.9C1561.5,788.7 1562.0,773.7 1562.7,762.4C1563.7,747.4 1564.7,727.4 1565.9,712.4C1567.0,699.7 1568.5,682.6 1570.2,670.0C1570.9,664.7 1573.0,657.8 1573.9,652.5C1575.5,644.2 1577.5,633.2 1578.4,624.8C1579.7,613.6 1580.6,598.6 1581.4,587.3C1582.3,576.1 1583.1,561.1 1583.9,549.9C1584.8,538.6 1586.0,523.6 1586.9,512.4C1587.9,501.1 1589.1,486.1 1590.2,474.9C1591.2,463.6 1592.8,448.7 1593.9,437.4C1595.1,426.2 1596.6,411.2 1597.7,399.9C1598.8,388.7 1600.2,373.7 1601.4,362.4C1602.5,352.7 1603.8,339.7 1605.2,330.0C1606.4,320.9 1608.2,308.9 1610.2,300.0C1611.6,293.9 1614.4,285.9 1616.4,280.0C1617.9,275.8 1620.3,267.2 1621.9,266.2C1622.9,265.7 1624.7,272.2 1625.2,275.0C1626.4,282.4 1627.0,292.5 1627.7,300.0C1628.5,309.0 1629.3,321.0 1630.2,330.0C1630.8,337.5 1631.7,347.5 1632.7,354.9C1633.2,358.7 1634.2,366.5 1635.2,367.4C1635.7,368.0 1636.9,362.2 1637.7,359.9C1638.6,357.3 1640.1,350.9 1640.9,351.2C1641.9,351.6 1643.4,359.0 1643.9,362.4C1645.0,369.9 1645.9,379.9 1646.4,387.4C1647.2,398.7 1647.8,413.7 1648.4,424.9C1649.0,436.2 1649.5,451.2 1650.2,462.4C1650.8,473.6 1651.8,488.6 1652.7,499.9C1653.5,511.1 1654.8,526.1 1655.7,537.4C1656.5,548.6 1657.3,563.6 1658.2,574.8C1658.9,583.8 1660.1,595.8 1660.9,604.8C1661.7,614.6 1662.8,627.6 1663.4,637.3C1663.6,641.1 1663.7,646.2 1663.9,650.0C1664.6,665.0 1665.7,685.0 1666.4,700.0C1667.3,718.7 1668.5,743.7 1669.4,762.4C1670.3,781.2 1671.6,806.2 1672.6,824.9C1673.5,839.9 1674.9,859.9 1675.9,874.9C1676.8,888.4 1677.8,906.4 1678.9,919.8C1679.9,932.6 1681.3,949.6 1682.6,962.3C1683.4,969.9 1685.0,979.9 1686.1,987.5C1687.5,997.2 1689.7,1010.2 1691.1,1020.0C1692.3,1028.2 1693.4,1039.3 1694.8,1047.5C1695.2,1049.8 1696.6,1054.9 1697.3,1054.9C1698.1,1054.9 1699.4,1049.8 1699.8,1047.5C1700.9,1040.8 1701.8,1031.7 1702.3,1025.0C1703.3,1013.7 1704.2,998.7 1704.8,987.5C1705.0,983.7 1705.0,978.6 1705.1,974.8C1705.8,959.8 1706.9,939.8 1707.6,924.8C1708.3,911.3 1708.5,893.2 1709.6,879.9C1709.8,877.9 1711.5,873.3 1712.1,873.6C1713.0,874.0 1714.4,879.7 1714.6,882.4C1715.7,895.0 1715.7,912.1 1716.4,924.8C1717.1,939.8 1718.2,959.8 1719.4,974.8C1719.7,978.6 1720.7,983.7 1721.1,987.5C1722.0,998.7 1722.6,1013.7 1723.6,1025.0C1724.4,1034.7 1726.0,1047.7 1727.3,1057.4C1728.2,1064.2 1729.4,1073.3 1731.1,1079.9C1732.0,1083.8 1734.0,1089.2 1736.1,1092.4C1737.0,1093.9 1739.5,1095.5 1741.1,1095.7C1742.5,1095.9 1744.5,1093.7 1746.1,1093.7C1747.9,1093.7 1750.4,1095.6 1752.3,1095.7C1754.1,1095.8 1757.0,1095.4 1758.5,1094.4C1760.8,1093.0 1762.9,1089.5 1764.8,1087.4C1767.0,1085.1 1769.9,1082.1 1772.3,1079.9C1774.4,1078.0 1778.3,1076.1 1779.8,1073.7C1782.4,1069.4 1784.3,1062.4 1786.0,1057.4C1788.4,1050.7 1791.6,1041.8 1793.5,1035.0C1795.8,1026.8 1798.2,1015.8 1799.8,1007.5C1801.6,997.7 1803.2,984.6 1805.1,974.8C1806.7,966.5 1809.5,955.6 1811.3,947.3C1812.8,940.6 1814.3,931.4 1816.3,924.8C1818.4,918.3 1822.2,909.8 1825.1,903.6C1827.4,898.6 1832.0,892.5 1833.8,887.4C1836.1,880.9 1836.4,871.2 1838.8,864.9C1840.1,861.4 1844.8,858.2 1846.3,854.9C1848.9,849.2 1850.7,840.9 1852.6,834.9C1853.7,831.1 1854.8,826.0 1856.3,822.4C1858.9,816.2 1864.6,808.8 1866.3,802.4C1868.4,794.5 1868.2,783.2 1868.8,774.9C1869.6,763.7 1870.3,748.7 1870.8,737.4C1871.4,722.4 1872.0,702.4 1872.5,687.5C1872.9,676.2 1873.4,661.1 1873.8,649.8C1874.2,639.3 1873.4,624.9 1875.0,614.8C1875.6,611.4 1880.3,608.1 1881.3,604.8C1883.3,598.4 1884.1,589.1 1885.0,582.3C1885.8,577.1 1885.8,569.9 1886.8,564.8C1887.1,563.4 1888.4,560.3 1889.3,560.6C1890.9,561.1 1893.0,566.5 1895.0,567.3C1896.2,567.9 1899.0,566.5 1900.0,565.3C1901.7,563.5 1903.2,559.9 1903.8,557.3C1905.1,551.5 1905.6,543.4 1906.3,537.4C1907.1,529.9 1908.2,519.9 1908.8,512.4C1909.3,504.9 1909.6,494.9 1910.0,487.4C1910.4,479.9 1910.7,469.9 1911.3,462.4C1911.7,457.1 1912.0,449.9 1913.3,444.9C1913.7,443.2 1916.4,441.7 1916.8,439.9C1918.2,433.8 1917.5,423.6 1919.3,418.7C1919.6,417.6 1923.1,420.7 1923.8,419.9C1925.3,418.1 1925.9,412.9 1926.8,409.9"/>
<path stroke="#9000ff" d="M207.6,1432.8C209.1,1431.8 211.1,1429.3 212.5,1429.5C214.3,1429.7 216.6,1434.3 218.3,1434.3C220.0,1434.2 222.5,1428.9 224.0,1429.1C225.7,1429.3 227.1,1435.4 229.0,1435.8C230.8,1436.1 234.2,1431.8 236.4,1431.6C237.9,1431.5 239.9,1434.7 241.3,1434.8C242.2,1434.9 242.9,1432.2 243.8,1432.2C245.1,1432.1 247.2,1433.6 248.7,1434.3C250.0,1434.8 252.0,1436.8 252.8,1436.2C254.3,1435.1 255.0,1428.7 256.1,1428.6C257.2,1428.5 258.8,1435.5 260.2,1435.7C261.5,1436.0 263.6,1430.4 265.2,1430.3C266.6,1430.1 268.5,1433.5 270.1,1434.6C271.1,1435.3 273.1,1437.0 273.8,1436.4C275.3,1435.4 276.2,1429.8 277.5,1429.4C278.5,1429.0 280.5,1432.4 281.6,1433.8C282.5,1434.9 283.3,1438.0 284.1,1437.7C285.5,1437.3 287.4,1431.7 289.0,1431.3C290.3,1431.0 292.2,1434.9 294.0,1435.3C296.2,1435.8 300.0,1435.0 302.2,1434.3C302.9,1434.0 303.1,1432.0 303.8,1432.0C305.4,1432.0 308.0,1434.4 309.6,1434.2C310.8,1434.1 312.1,1430.7 313.2,1431.1C315.4,1432.0 318.2,1438.4 320.6,1438.8C322.4,1439.1 325.5,1433.1 327.1,1433.5C328.9,1433.9 330.2,1440.8 331.7,1441.4C332.6,1441.8 334.1,1438.0 335.4,1436.9C336.2,1436.2 337.8,1435.5 338.7,1435.6C339.7,1435.8 340.8,1437.7 342.0,1438.1C343.4,1438.6 346.0,1439.3 347.3,1438.8C348.4,1438.4 349.1,1435.5 350.2,1435.3C351.2,1435.0 353.0,1436.9 354.3,1437.2C355.0,1437.4 356.1,1436.7 356.8,1436.9C358.3,1437.4 360.5,1440.2 361.7,1439.8C363.2,1439.2 364.6,1433.0 365.8,1433.5C367.6,1434.2 369.8,1443.7 371.6,1443.6C373.5,1443.5 375.6,1433.8 378.2,1432.7C380.0,1431.9 384.0,1436.9 386.4,1437.1C387.7,1437.2 389.3,1434.6 390.5,1433.5"/>
<path stroke="#ff00ff" d="M192.8,1458.4C193.8,1458.1 195.1,1457.6 196.1,1457.6C197.3,1457.6 199.0,1458.4 200.2,1458.4C201.2,1458.3 202.5,1457.2 203.5,1457.3C204.7,1457.5 206.5,1459.8 207.6,1459.5C209.2,1459.1 211.2,1454.8 212.5,1455.2C214.4,1455.8 216.6,1463.0 218.3,1462.8C220.1,1462.7 222.3,1454.0 224.0,1454.2C226.1,1454.5 228.4,1463.9 230.6,1464.7C232.1,1465.2 234.8,1458.4 236.4,1458.5C238.0,1458.5 240.0,1464.7 241.3,1465.1C242.2,1465.3 242.6,1461.0 243.8,1460.3C244.8,1459.6 247.5,1459.8 248.7,1460.3C250.2,1460.9 252.2,1464.9 252.8,1464.2C254.1,1462.8 254.3,1453.6 255.3,1453.3C256.2,1453.1 257.6,1461.4 259.4,1462.4C260.6,1463.1 263.3,1459.5 265.2,1459.0C266.5,1458.6 268.9,1458.7 270.1,1459.3C271.6,1460.1 273.4,1464.4 274.2,1463.7C276.1,1462.2 277.8,1451.9 279.2,1451.9C280.5,1451.8 281.5,1460.6 283.3,1463.4C283.7,1464.1 286.1,1464.4 286.6,1463.8C288.0,1461.8 288.4,1455.4 289.8,1454.6C290.9,1454.1 293.0,1458.6 294.8,1459.4C296.7,1460.2 300.3,1460.3 302.2,1459.9C303.0,1459.7 303.2,1457.1 303.8,1457.3C305.4,1457.6 308.3,1462.2 309.6,1461.7C311.3,1461.0 312.6,1452.8 314.0,1453.3C315.9,1454.0 318.4,1465.2 320.6,1465.5C322.6,1465.8 326.2,1455.2 328.0,1455.2C329.5,1455.2 330.3,1464.8 331.7,1465.6C332.5,1466.2 334.0,1461.4 335.4,1460.0C336.1,1459.2 337.6,1458.2 338.7,1458.2C339.9,1458.1 341.5,1459.4 342.8,1459.9C344.1,1460.3 346.3,1461.6 347.3,1461.1C348.5,1460.5 349.0,1457.1 350.2,1456.4C351.1,1455.8 353.1,1456.6 354.3,1457.0C355.3,1457.3 356.6,1458.1 357.6,1458.6C358.8,1459.1 361.1,1461.0 361.7,1460.2C363.3,1458.4 364.0,1453.0 365.0,1449.9"/>
</g>
<rect x="185.5" y="92.5" width="1598" height="159.5" fill="#ffffff" stroke="#000000" stroke-width="3" shape-rendering="crispEdges"/>
<line x1="190" y1="135" x2="330.5" y2="135" stroke="#9000ff" stroke-width="5" shape-rendering="crispEdges"/>
<line x1="190" y1="210.5" x2="330.5" y2="210.5" stroke="#ff00ff" stroke-width="5" shape-rendering="crispEdges"/>
<text id="leg1" transform="translate(345.30,155.80) scale(1.0000,1.0300)" font-family="'Liberation Sans', Arial, Helvetica, sans-serif" font-size="60.60" text-anchor="start" fill="#000000">CELL pulp (Cellulose I), TCI = 1.246</text>
<text id="leg2" transform="translate(345.30,231.00) scale(1.0006,1.0300)" font-family="'Liberation Sans', Arial, Helvetica, sans-serif" font-size="60.60" text-anchor="start" fill="#000000">CELL after dissolution in IL (Cellulose II), TCI = 1.174</text>
<text transform="translate(155.50,1583.20) scale(1.0000,1.0500)" font-family="'Liberation Sans', Arial, Helvetica, sans-serif" font-size="60.30" text-anchor="middle" fill="#000000">4000</text>
<text transform="translate(490.00,1583.20) scale(1.0000,1.0500)" font-family="'Liberation Sans', Arial, Helvetica, sans-serif" font-size="60.30" text-anchor="middle" fill="#000000">3500</text>
<text transform="translate(824.50,1583.20) scale(1.0000,1.0500)" font-family="'Liberation Sans', Arial, Helvetica, sans-serif" font-size="60.30" text-anchor="middle" fill="#000000">3000</text>
<text transform="translate(1274.30,1583.20) scale(1.0000,1.0500)" font-family="'Liberation Sans', Arial, Helvetica, sans-serif" font-size="60.30" text-anchor="middle" fill="#000000">1500</text>
<text transform="translate(1637.20,1583.20) scale(1.0000,1.0500)" font-family="'Liberation Sans', Arial, Helvetica, sans-serif" font-size="60.30" text-anchor="middle" fill="#000000">1000</text>
<text id="yt" transform="translate(76.30,932.50) rotate(-90) scale(1.0000,1)" font-family="'Liberation Sans', Arial, Helvetica, sans-serif" font-size="76.00" fill="#000000">Absorbance</text>
<text id="xt" fill="#000000"><tspan x="936.30" y="1705.6" font-family="'Liberation Serif', 'DejaVu Serif', serif" font-size="81.00">λ </tspan><tspan x="995.00" y="1703.00" font-family="'Liberation Serif', 'DejaVu Serif', serif" font-size="69.00">(</tspan><tspan x="1019.50" y="1705.6" font-family="'Liberation Sans', Arial, Helvetica, sans-serif" font-size="76.00">nm</tspan><tspan x="1123.00" y="1703.00" font-family="'Liberation Serif', 'DejaVu Serif', serif" font-size="69.00">)</tspan></text>
</svg>
</body>
</html>
